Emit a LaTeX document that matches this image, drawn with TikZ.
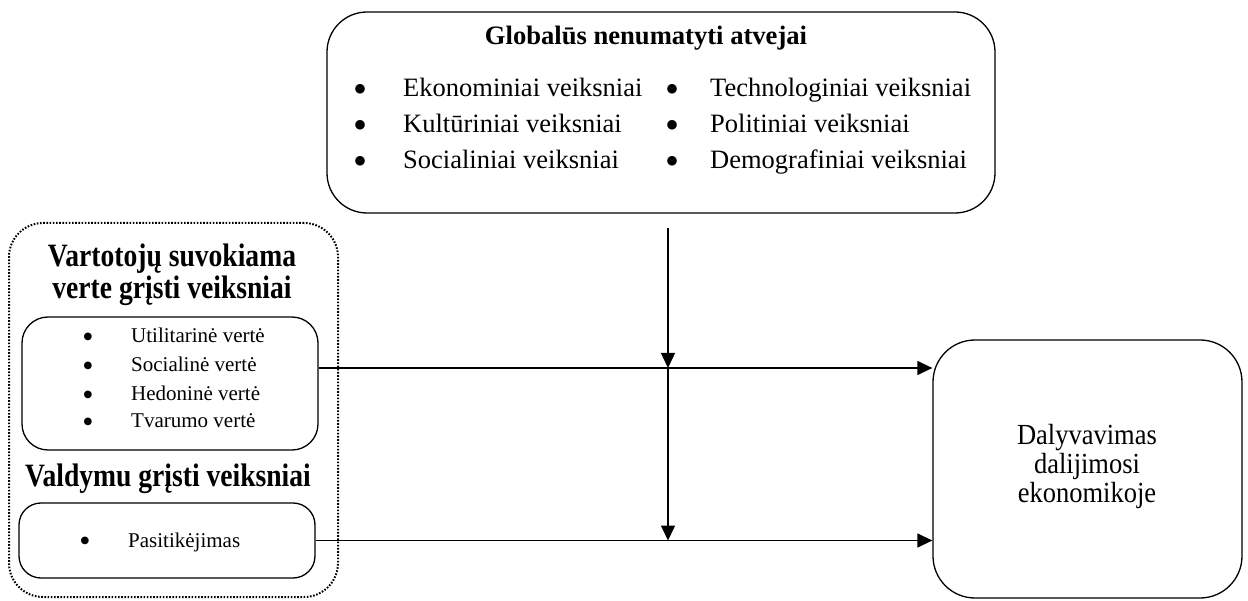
\documentclass[tikz,border=0pt]{standalone}
\usepackage{fontspec}
\setmainfont{Liberation Serif}
\usetikzlibrary{arrows.meta}
\newcommand{\tall}[2]{\scalebox{1}[#1]{#2}}
\begin{document}
\begin{tikzpicture}[x=1pt,y=-1pt,
  box/.style={draw, line width=1.3pt, inner sep=0pt},
  dotbox/.style={draw, line width=2pt, dash pattern=on 1.6pt off 1.6pt, inner sep=0pt, rounded corners=34pt},
  flow/.style={line width=1.4pt, -{Triangle[length=15pt,width=14pt]}},
  big/.style={font=\fontsize{26.5}{32}\selectfont, anchor=base, inner sep=0pt},
  bigb/.style={font=\fontsize{26.6}{32}\selectfont\bfseries, anchor=base, inner sep=0pt},
  bigdot/.style={font=\fontsize{40}{46}\selectfont, anchor=base, inner sep=0pt, text height=18pt, text depth=0pt},
  head/.style={font=\fontsize{27.6}{34}\selectfont\bfseries, anchor=base, inner sep=0pt},
  small/.style={font=\fontsize{21}{25}\selectfont, anchor=base, inner sep=0pt},
  smalldot/.style={font=\fontsize{32}{38}\selectfont, anchor=base, inner sep=0pt, text height=15pt, text depth=0pt},
  outtext/.style={font=\fontsize{26.5}{30}\selectfont, anchor=base, inner sep=0pt},
  item/.style={anchor=base west},
]
\useasboundingbox (0,0) rectangle (1248,601);

% ---- boxes
\node[box, rounded corners=40pt, minimum width=668pt, minimum height=201pt] (global) at (661,112.5) {};
\node[dotbox, minimum width=329pt, minimum height=374pt] (group) at (173.5,410) {};
\node[box, rounded corners=26pt, minimum width=296pt, minimum height=133pt] (value) at (170,383.5) {};
\node[box, rounded corners=22pt, minimum width=296pt, minimum height=75pt] (gov) at (167,540.5) {};
\node[box, rounded corners=42pt, minimum width=309pt, minimum height=258pt] (out) at (1087.5,469) {};

% ---- global factors
\node[bigb] (gtitle) at (646,45) {Globalūs nenumatyti atvejai};
\node[bigdot] (gb1) at (360,102.4) {\textbullet};
\node[bigdot] (gb2) at (360,138.4) {\textbullet};
\node[bigdot] (gb3) at (360,174.4) {\textbullet};
\node[big,item] (g1) at (403,97) {Ekonominiai veiksniai};
\node[big,item] (g2) at (403,133) {Kultūriniai veiksniai};
\node[big,item] (g3) at (403,169) {Socialiniai veiksniai};
\node[bigdot] (gb4) at (672,102.4) {\textbullet};
\node[bigdot] (gb5) at (672,138.4) {\textbullet};
\node[bigdot] (gb6) at (672,174.4) {\textbullet};
\node[big,item] (g4) at (710,97) {Technologiniai veiksniai};
\node[big,item] (g5) at (710,133) {Politiniai veiksniai};
\node[big,item] (g6) at (710,169) {Demografiniai veiksniai};

% ---- perceived value factors
\node[head] (vt1) at (172,267) {\tall{1.18}{Vartotojų suvokiama}};
\node[head] (vt2) at (172,299) {\tall{1.18}{verte grįsti veiksniai}};
\node[smalldot] (vb1) at (88,347.2) {\textbullet};
\node[smalldot] (vb2) at (88,376.2) {\textbullet};
\node[smalldot] (vb3) at (88,405.2) {\textbullet};
\node[smalldot] (vb4) at (88,432.2) {\textbullet};
\node[small,item] (v1) at (131,343) {Utilitarinė vertė};
\node[small,item] (v2) at (131,372) {Socialinė vertė};
\node[small,item] (v3) at (131,401) {Hedoninė vertė};
\node[small,item] (v4) at (131,428) {Tvarumo vertė};

% ---- governance factors
\node[head] (gvt) at (168,486) {\tall{1.18}{Valdymu grįsti veiksniai}};
\node[smalldot] (pb) at (85,551.2) {\textbullet};
\node[small,item] (p1) at (128,547) {Pasitikėjimas};

% ---- outcome
\node[outtext] (o1) at (1087,445) {\tall{1.1}{Dalyvavimas}};
\node[outtext] (o2) at (1087,473.5) {\tall{1.1}{dalijimosi}};
\node[outtext] (o3) at (1087,502) {\tall{1.1}{ekonomikoje}};

% ---- connectors
\coordinate (vtop) at (668,228);
\coordinate (m1) at (668,368);
\coordinate (m2) at (668,540.5);
\draw[flow] (value.east |- m1) -- (out.west |- m1);
\draw[flow] (gov.east) -- (out.west |- gov.east);
\draw[flow] (vtop) -- (m1);
\draw[flow] (m1) -- (m2);
\end{tikzpicture}
\end{document}
